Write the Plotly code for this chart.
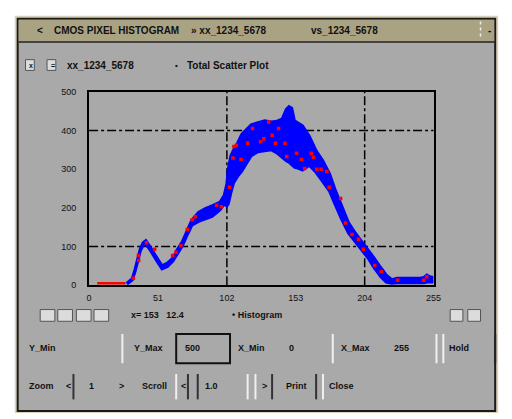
import plotly.graph_objects as go

# ---------------- data ----------------
x_ticks = [0, 51, 102, 153, 204, 255]
y_ticks = [0, 100, 200, 300, 400, 500]
x_grid = [102, 204]
y_grid = [100, 400]

blue_x = [28, 32, 34, 36, 38, 40, 42, 45, 47, 51, 54, 58, 62, 65, 69, 73, 76, 81, 86, 91,
          97, 100, 102, 103, 105, 107, 110, 113, 117, 120, 125, 130, 135, 139, 143, 146, 148,
          150, 152, 155, 158, 163, 168, 173, 178, 182, 187, 192, 197, 202, 207, 211, 216,
          220, 224, 228, 235, 240, 245, 248, 250, 252, 255]
blue_hi = [5, 17, 40, 70, 95, 110, 115, 100, 88, 66, 50, 57, 70, 90, 112, 143, 168, 188, 198, 205,
           215, 232, 262, 300, 335, 350, 368, 390, 405, 415, 420, 425, 422, 424, 430, 455, 462,
           458, 425, 418, 412, 385, 348, 322, 288, 248, 205, 162, 135, 112, 90, 70, 45,
           26, 14, 18, 18, 18, 18, 20, 26, 22, 20]
blue_lo = [3, 14, 36, 62, 90, 103, 106, 92, 80, 58, 42, 48, 62, 80, 102, 133, 155, 165, 172, 178,
           195, 210, 205, 210, 240, 265, 282, 295, 318, 335, 345, 348, 350, 342, 330, 322, 318,
           312, 305, 302, 298, 310, 292, 268, 243, 210, 170, 135, 112, 90, 68, 45, 22,
           8, 5, 6, 6, 6, 6, 6, 8, 8, 8]

red_line_x = [6, 8, 10, 12, 14, 16, 18, 20, 22, 24, 26, 27]
red_line_y = [5, 5, 5, 5, 5, 5, 5, 5, 5, 5, 5, 5]

red_x = [32.8, 36.5, 36.7, 42.5, 48.5, 61.8, 64.3, 67.9, 72.7, 76.3, 78.7, 94.4, 98, 104,
         106.5, 107.2, 109, 112.5, 117.4, 121, 127, 129.4, 133, 135.5, 137.9, 140.3, 145,
         146.3, 153.6, 157.2, 159.6, 164.4, 166.1, 168.6, 171.7, 176, 177.7, 186.2, 189.8,
         194.6, 199.4, 203, 211.5, 216.4, 228.4, 247.7, 250]
red_y = [17.7, 76.5, 64, 110, 93, 76.5, 85, 102, 144, 169, 177, 207, 203, 253,
         329, 358.6, 362, 325, 367, 405, 371, 379, 422, 388, 367, 405, 367,
         333, 341, 325, 302, 341, 331, 300, 300, 294, 253, 224, 161,
         131, 119, 93, 51, 35, 13, 13, 22]

# ---------------- layout helpers ----------------
W, H = 512, 419


def px(x):
    return x / W


def py(y):
    return 1 - y / H


FONT = "Liberation Sans"
BODY = "#a9a9a9"
TITLE = "#aaa383"

fig = go.Figure()

# blue band (lower edge then upper edge, filled between)
fig.add_trace(go.Scatter(x=blue_x, y=blue_lo, mode="lines",
                         line=dict(color="#0000ff", width=3), hoverinfo="skip"))
fig.add_trace(go.Scatter(x=blue_x, y=blue_hi, mode="lines", fill="tonexty",
                         fillcolor="#0000ff",
                         line=dict(color="#0000ff", width=3), hoverinfo="skip"))
# red points
fig.add_trace(go.Scatter(x=red_line_x, y=red_line_y, mode="lines",
                         line=dict(color="#ff0000", width=2.5), hoverinfo="skip"))
fig.add_trace(go.Scatter(x=red_x, y=red_y, mode="markers",
                         marker=dict(color="#ff0000", size=3.5, symbol="square"),
                         hoverinfo="skip"))

shapes = []


def rect(x0, y0, x1, y1, fill=None, line=None, lw=1, layer="below"):
    shapes.append(dict(type="rect", xref="paper", yref="paper",
                       x0=px(x0), x1=px(x1), y0=py(y1), y1=py(y0),
                       fillcolor=fill if fill else "rgba(0,0,0,0)",
                       line=dict(color=line if line else "rgba(0,0,0,0)", width=lw if line else 0),
                       layer=layer))


def vline(x, y0, y1, color, lw=1.5, dash=None):
    d = dict(type="line", xref="paper", yref="paper", x0=px(x), x1=px(x),
             y0=py(y0), y1=py(y1), line=dict(color=color, width=lw), layer="below")
    if dash:
        d["line"]["dash"] = dash
    shapes.append(d)


def button(x0, y0, x1, y1):
    rect(x0, y0, x1, y1, fill="#dcdcdc", line="#555555", lw=1)


# window
rect(12, 11, 506, 418, fill="#d9d2b8")
rect(15, 14, 503, 416, fill=BODY, line="#1a1a1a", lw=2)
rect(16, 15, 502, 37, fill=TITLE)
shapes.append(dict(type="line", xref="paper", yref="paper", x0=px(16), x1=px(502),
                   y0=py(38), y1=py(38), line=dict(color="#222", width=1.5), layer="below"))
vline(488, 17, 35, "#eeeeee", 1.5, "dot")

# legend row buttons
button(23, 56, 32, 67)
button(45, 56, 54, 67)
# below chart buttons
button(38, 312, 53, 324)
button(56, 312, 71, 324)
button(75, 312, 90, 324)
button(93, 312, 108, 324)
button(457, 312, 470, 324)
button(475, 312, 488, 324)

# field row
vline(122, 337, 367, "#f0f0f0", 2)
rect(177, 337, 232, 367, line="#111111", lw=2)
vline(337, 337, 367, "#f0f0f0", 2)
vline(443, 337, 367, "#f0f0f0", 2)
vline(450, 337, 367, "#f0f0f0", 2)
vline(503, 337, 367, "#222222", 2)

# bottom row
vline(72, 378, 404, "#333333", 2)
vline(177, 378, 404, "#f0f0f0", 2)
vline(189, 378, 404, "#333333", 2)
vline(199, 378, 404, "#333333", 2)
vline(250, 378, 404, "#f0f0f0", 2)
vline(258, 378, 404, "#f0f0f0", 2)
vline(275, 378, 404, "#333333", 2)
vline(320, 378, 404, "#333333", 2)
vline(327, 378, 404, "#f0f0f0", 2)

# grid lines
for gx in x_grid:
    shapes.append(dict(type="line", xref="x", yref="y domain", x0=gx, x1=gx, y0=0, y1=1,
                       line=dict(color="black", width=1.5, dash="dashdot"), layer="below"))
for gy in y_grid:
    shapes.append(dict(type="line", xref="x domain", yref="y", x0=0, x1=1, y0=gy, y1=gy,
                       line=dict(color="black", width=1.5, dash="dashdot"), layer="below"))

annotations = []


def text(x, y, s, size=9, anchor="left", color="#111111", bold=True):
    annotations.append(dict(xref="paper", yref="paper", x=px(x), y=py(y), text=(f"<b>{s}</b>" if bold else s),
                            showarrow=False, xanchor=anchor, yanchor="middle",
                            font=dict(family=FONT, size=size, color=color)))


# title bar
text(33, 26, "&lt;", 10)
text(50, 26, "CMOS PIXEL HISTOGRAM", 10)
text(190, 26, "» xx_1234_5678", 10)
text(313, 26, "vs_1234_5678", 10)
text(497, 26, "-", 10, anchor="center")

# legend row
text(25, 61.5, "x", 7)
text(47, 61.5, "=", 7)
text(63, 62, "xx_1234_5678", 10)
text(174, 62, "•", 8)
text(186, 62, "Total Scatter Plot", 10)

# row below chart
text(129, 318, "x= 153   12.4", 9)
text(232, 318, "• Histogram", 9)

# field row
text(25, 351, "Y_Min", 9)
text(132, 351, "Y_Max", 9)
text(184, 351, "500", 9)
text(238, 351, "X_Min", 9)
text(290, 351, "0", 9)
text(343, 351, "X_Max", 9)
text(398, 351, "255", 9)
text(454, 351, "Hold", 9)

# bottom row
text(25, 390, "Zoom", 9)
text(62, 390, "&lt;", 9)
text(86, 390, "1", 9)
text(116, 390, "&gt;", 9)
text(140, 390, "Scroll", 9)
text(180, 390, "&lt;", 9)
text(204, 390, "1.0", 9)
text(263, 390, "&gt;", 9)
text(287, 390, "Print", 9)
text(331, 390, "Close", 9)

fig.update_layout(
    width=W, height=H, autosize=False,
    margin=dict(l=0, r=0, t=0, b=0),
    paper_bgcolor="white", plot_bgcolor="rgba(0,0,0,0)",
    showlegend=False,
    shapes=shapes, annotations=annotations,
    xaxis=dict(domain=[px(88), px(440)], range=[0, 255], tickvals=x_ticks,
               ticktext=[str(v) for v in x_ticks], showgrid=False, zeroline=False,
               showline=True, mirror=True, linecolor="black", linewidth=2,
               ticks="", ticklabelstandoff=3,
               tickfont=dict(family=FONT, size=9, color="#111")),
    yaxis=dict(domain=[py(287), py(89)], range=[0, 500], tickvals=y_ticks,
               ticktext=[str(v) for v in y_ticks], showgrid=False, zeroline=False,
               showline=True, mirror=True, linecolor="black", linewidth=2,
               ticks="", ticklabelstandoff=9,
               tickfont=dict(family=FONT, size=9, color="#111")),
)

fig.write_html("out.html", config={"displayModeBar": False},
               post_script="document.body.style.margin='0px';document.body.style.overflow='hidden';")
